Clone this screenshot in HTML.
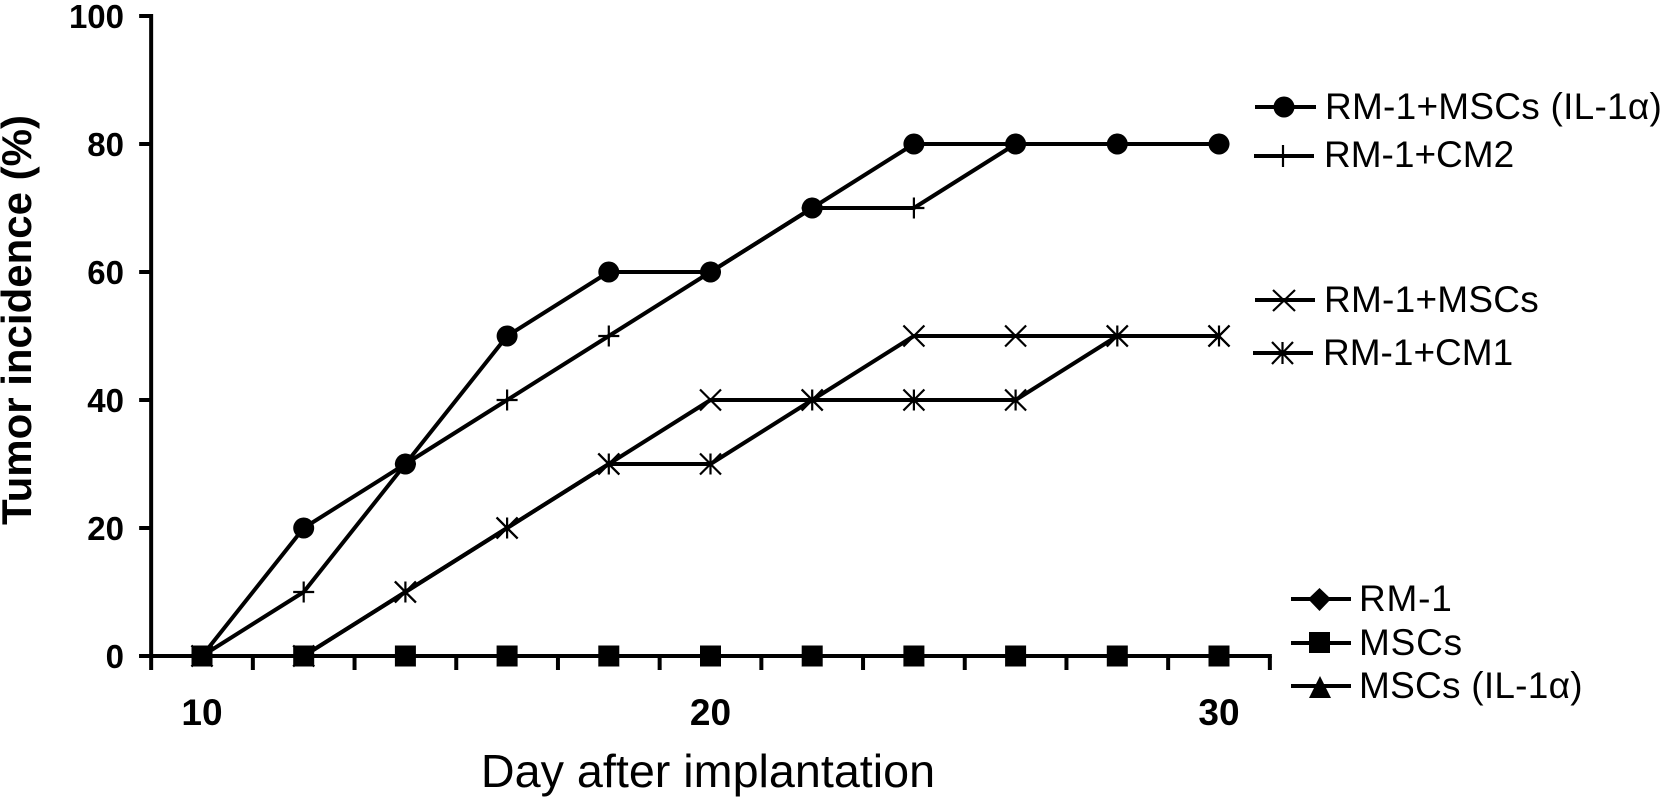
<!DOCTYPE html>
<html>
<head>
<meta charset="utf-8">
<style>
html,body{margin:0;padding:0;background:#fff;}
svg{display:block;}
text{fill:#000;font-family:"Liberation Sans",sans-serif;}
.ytick{font-size:33px;font-weight:bold;}
.xtick{font-size:37px;font-weight:bold;}
.leg{font-size:37px;}
.sp{letter-spacing:0.25px;}
.sp2{letter-spacing:0.8px;}
</style>
</head>
<body>
<svg id="chart" xmlns="http://www.w3.org/2000/svg" width="1665" height="797" viewBox="0 0 1665 797">
<rect x="0" y="0" width="1665" height="797" fill="#fff"/>
<g id="axes"></g>
<g id="series"></g>
<text transform="translate(31,320) rotate(-90)" text-anchor="middle" font-size="42" font-weight="bold">Tumor incidence (%)</text>
<text x="708" y="787" text-anchor="middle" font-size="46.700">Day after implantation</text>
<g id="legend">
  <g>
    <line x1="1255" x2="1316" y1="107" y2="107" stroke="#000" stroke-width="4"/>
    <circle cx="1284" cy="107" r="10.5" fill="#000"/>
    <text class="leg sp" x="1325" y="119">RM-1+MSCs (IL-1α)</text>
  </g>
  <g>
    <line x1="1254" x2="1314" y1="156" y2="156" stroke="#000" stroke-width="4"/>
    <line x1="1283" x2="1283" y1="145" y2="167" stroke="#000" stroke-width="2.2"/>
    <text class="leg" x="1324" y="167">RM-1+CM2</text>
  </g>
  <g>
    <line x1="1255" x2="1315" y1="300" y2="300" stroke="#000" stroke-width="4"/>
    <path d="M1273 290L1295 311M1295 290L1273 311" stroke="#000" stroke-width="2.2" fill="none"/>
    <text class="leg sp" x="1324" y="312">RM-1+MSCs</text>
  </g>
  <g>
    <line x1="1253" x2="1313" y1="353" y2="353" stroke="#000" stroke-width="4"/>
    <path d="M1272 342L1293 364M1293 342L1272 364M1282.500 342V364" stroke="#000" stroke-width="2.2" fill="none"/>
    <text class="leg" x="1323" y="365">RM-1+CM1</text>
  </g>
  <g>
    <line x1="1291" x2="1351" y1="599" y2="599" stroke="#000" stroke-width="4"/>
    <path d="M1319.500 588L1331 599L1319.500 611L1308 599Z" fill="#000"/>
    <text class="leg sp2" x="1359" y="611">RM-1</text>
  </g>
  <g>
    <line x1="1291" x2="1351" y1="643" y2="643" stroke="#000" stroke-width="4"/>
    <rect x="1309" y="632" width="21" height="21" fill="#000"/>
    <text class="leg sp2" x="1359" y="655">MSCs</text>
  </g>
  <g>
    <line x1="1291" x2="1351" y1="686" y2="686" stroke="#000" stroke-width="4"/>
    <path d="M1320 676L1331 698H1309Z" fill="#000"/>
    <text class="leg sp" x="1359" y="698">MSCs (IL-1α)</text>
  </g>
</g>
</svg>
<script>
var days = [10,12,14,16,18,20,22,24,26,28,30];
var rm1MscsIl1a = [0,20,30,50,60,60,70,80,80,80,80];
var rm1Cm2 = [0,10,30,40,50,60,70,70,80,80,80];
var rm1Mscs = [0,0,10,20,30,40,40,50,50,50,50];
var rm1Cm1 = [0,0,10,20,30,30,40,40,40,50,50];
var rm1 = [0,0,0,0,0,0,0,0,0,0,0];
var mscs = [0,0,0,0,0,0,0,0,0,0,0];
var mscsIl1a = [0,0,0,0,0,0,0,0,0,0,0];
var yTickLabels = [0,20,40,60,80,100];
var xTickLabels = [10,20,30];
var xMinorTicks = [9,11,13,15,17,19,21,23,25,27,29,31];

var NS = 'http://www.w3.org/2000/svg';
function xScale(d){ return 202 + (d - 10) * 50.85; }
function yScale(v){ return 656 - v * 6.4; }
function mk(parent, tag, attrs){
  var el = document.createElementNS(NS, tag);
  for (var k in attrs) el.setAttribute(k, attrs[k]);
  parent.appendChild(el);
  return el;
}
var axes = document.getElementById('axes');
var seriesG = document.getElementById('series');

var yAxis = mk(axes, 'line', {x1:xScale(9), x2:xScale(9), y1:yScale(100)-2, y2:yScale(0)+2, stroke:'#000', 'stroke-width':4});


var xAxis = mk(axes, 'line', {x1:xScale(9)-12, x2:xScale(31)+2, y1:yScale(0), y2:yScale(0), stroke:'#000', 'stroke-width':4});



yTickLabels.forEach(function(v){
  var t = mk(axes, 'line', {x1:xScale(9)-12, x2:xScale(9), y1:yScale(v), y2:yScale(v), stroke:'#000', 'stroke-width':4});
  
  
  var l = mk(axes, 'text', {x:124, y:yScale(v)+12, 'text-anchor':'end', 'class':'ytick'});
  l.textContent = v;
  
  
});
xMinorTicks.forEach(function(d){
  var t = mk(axes, 'line', {x1:xScale(d), x2:xScale(d), y1:yScale(0), y2:yScale(0)+14, stroke:'#000', 'stroke-width':4});
  
  
});
xTickLabels.forEach(function(d){
  var l = mk(axes, 'text', {x:xScale(d), y:725, 'text-anchor':'middle', 'class':'xtick'});
  l.textContent = d;
  
  
});

function drawMarker(g, type, x, y){
  var s = 10.5, el;
  if (type === 'circle') el = mk(g, 'circle', {cx:x, cy:y, r:s, fill:'#000'});
  else if (type === 'square') el = mk(g, 'rect', {x:x-s, y:y-s, width:2*s, height:2*s, fill:'#000'});
  else if (type === 'diamond') el = mk(g, 'path', {d:'M'+x+' '+(y-s)+'L'+(x+s)+' '+y+'L'+x+' '+(y+s)+'L'+(x-s)+' '+y+'Z', fill:'#000'});
  else if (type === 'triangle') el = mk(g, 'path', {d:'M'+x+' '+(y-s)+'L'+(x+s)+' '+(y+s)+'L'+(x-s)+' '+(y+s)+'Z', fill:'#000'});
  else {
    var d = '';
    if (type === 'plus' || type === 'star') d += 'M'+x+' '+(y-s)+'V'+(y+s);
    if (type === 'plus') d += 'M'+(x-s)+' '+y+'H'+(x+s);
    if (type === 'x' || type === 'star') d += 'M'+(x-s)+' '+(y-s)+'L'+(x+s)+' '+(y+s)+'M'+(x+s)+' '+(y-s)+'L'+(x-s)+' '+(y+s);
    el = mk(g, 'path', {d:d, stroke:'#000', 'stroke-width':2.2, fill:'none'});
  }
  
  
}
function drawSeries(name, values, marker){
  var g = mk(seriesG, 'g', {});
  
  
  var pts = values.map(function(v, i){ return xScale(days[i]) + ',' + yScale(v); }).join(' ');
  var line = mk(g, 'polyline', {points:pts, fill:'none', stroke:'#000', 'stroke-width':4, 'stroke-linejoin':'round'});
  
  
  values.forEach(function(v, i){ drawMarker(g, marker, xScale(days[i]), yScale(v)); });
}
drawSeries('series-rm1-cm2', rm1Cm2, 'plus');
drawSeries('series-rm1-cm1', rm1Cm1, 'star');
drawSeries('series-rm1-mscs', rm1Mscs, 'x');
drawSeries('series-rm1-mscs-il1a', rm1MscsIl1a, 'circle');
drawSeries('series-rm1', rm1, 'diamond');
drawSeries('series-mscs-il1a', mscsIl1a, 'triangle');
drawSeries('series-mscs', mscs, 'square');
</script>
</body>
</html>
